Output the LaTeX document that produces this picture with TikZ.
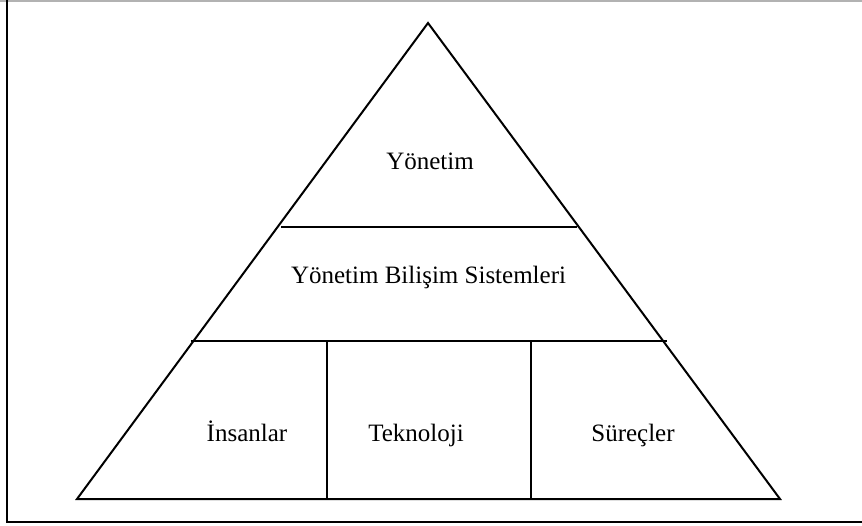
\documentclass[tikz,border=0pt]{standalone}
\usepackage{fontspec}
\setmainfont{Liberation Serif}
\begin{document}
\begin{tikzpicture}[x=1pt,y=-1pt,
  edge/.style={line width=2pt,black},
  label/.style={font=\fontsize{25}{29}\selectfont,inner sep=0pt,anchor=base}]
\useasboundingbox (0,0) rectangle (862,525);
% frame
\draw[line width=2pt,gray!60] (0,0.8) -- (862,0.8);
\draw[edge] (7,0) -- (7,522) -- (862,522);
% pyramid outline
\coordinate (apex) at (428,23);
\coordinate (bl) at (77,499);
\coordinate (br) at (780,499);
\draw[edge,line join=miter] (apex) -- (br) -- (bl) -- cycle;
% horizontal divisions
\coordinate (h1l) at (281,227);
\coordinate (h1r) at (577,227);
\coordinate (h2l) at (191,341);
\coordinate (h2r) at (667,341);
\draw[edge] (h1l) -- (h1r);
\draw[edge] (h2l) -- (h2r);
% vertical divisions of the base
\coordinate (v1t) at (327,341);
\coordinate (v1b) at (327,499);
\coordinate (v2t) at (531,341);
\coordinate (v2b) at (531,499);
\draw[edge] (v1t) -- (v1b);
\draw[edge] (v2t) -- (v2b);
% labels
\node[label] (yon) at (430,169) {Yönetim};
\node[label] (ybs) at (428.5,283) {Yönetim Bilişim Sistemleri};
\node[label] (ins) at (247,441) {İnsanlar};
\node[label] (tek) at (416,441) {Teknoloji};
\node[label] (sur) at (633,441) {Süreçler};
\end{tikzpicture}
\end{document}
